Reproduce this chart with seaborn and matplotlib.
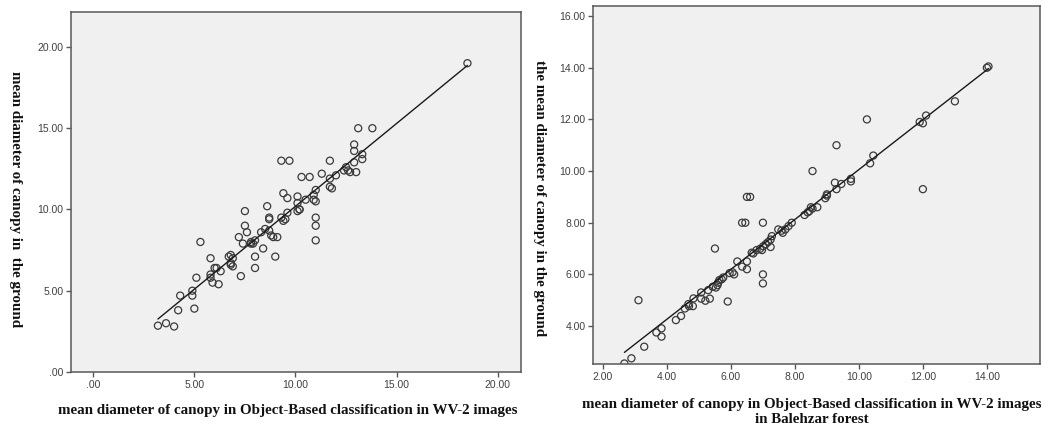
import numpy as np
import pandas as pd
import matplotlib
matplotlib.use("Agg")
import matplotlib.pyplot as plt
from matplotlib.ticker import FuncFormatter, MultipleLocator
import seaborn as sns

# ============================
# Data
# ============================
left_x = [18.5, 13.1, 13.8, 12.9, 12.9, 13.3, 13.3, 12.9, 13.0, 12.5,
          12.4, 12.6, 12.7, 11.7, 11.3, 11.7, 12.0, 11.7, 11.8, 10.3,
          10.7, 9.3, 9.7, 11.0, 10.9, 10.9, 11.0, 11.0, 11.0, 11.0,
          10.5, 10.1, 10.1, 10.2, 10.1, 10.2, 9.4, 9.6, 9.6, 9.3,
          9.5, 9.4, 8.6, 8.7, 8.7, 8.5, 8.7, 8.3, 8.8, 8.9,
          9.1, 9.0, 8.4, 8.0, 8.0, 7.5, 7.5, 7.6, 7.2, 7.4,
          7.8, 7.9, 8.0, 7.8, 7.3, 5.3, 5.8, 6.7, 6.8, 6.9,
          6.8, 6.9, 6.8, 6.0, 6.1, 6.3, 5.8, 5.8, 5.9, 6.2,
          5.1, 4.9, 4.9, 4.3, 4.2, 5.0, 3.2, 3.6, 4.0]
left_y = [19.0, 15.0, 15.0, 14.0, 13.6, 13.4, 13.1, 12.9, 12.3, 12.6,
          12.4, 12.4, 12.3, 13.0, 12.2, 11.9, 12.1, 11.4, 11.3, 12.0,
          12.0, 13.0, 13.0, 11.2, 10.9, 10.6, 10.5, 9.5, 9.0, 8.1,
          10.6, 10.8, 10.4, 10.0, 9.9, 10.0, 11.0, 10.7, 9.8, 9.5,
          9.4, 9.3, 10.2, 9.5, 9.4, 8.8, 8.7, 8.6, 8.4, 8.3,
          8.3, 7.1, 7.6, 7.1, 6.4, 9.9, 9.0, 8.6, 8.3, 7.9,
          8.0, 7.9, 8.1, 7.9, 5.9, 8.0, 7.0, 7.1, 7.2, 7.0,
          6.7, 6.5, 6.6, 6.4, 6.4, 6.2, 6.0, 5.8, 5.5, 5.4,
          5.8, 5.0, 4.7, 4.7, 3.8, 3.9, 2.85, 3.0, 2.8]

right_x = [14.0, 14.05, 13.0, 12.1, 11.9, 12.0, 12.0, 10.25, 9.3, 10.45,
           10.35, 9.75, 9.75, 9.25, 9.45, 9.3, 8.55, 9.0, 9.0, 8.95,
           8.7, 8.55, 8.45, 8.4, 8.3, 8.5, 6.5, 6.6, 6.35, 6.45,
           7.0, 7.9, 7.8, 7.7, 7.58, 7.48, 7.62, 7.28, 7.24, 7.16,
           7.09, 7.01, 6.91, 6.8, 6.7, 6.65, 6.97, 7.24, 7.0, 7.0,
           5.5, 6.5, 6.5, 6.2, 6.35, 6.1, 6.05, 5.96, 5.9, 5.76,
           5.71, 5.64, 5.6, 5.58, 5.53, 5.29, 5.43, 5.34, 5.2, 5.07,
           5.07, 4.83, 4.81, 4.69, 4.67, 4.56, 4.44, 4.28, 3.83, 3.83,
           3.67, 3.29, 3.11, 2.89, 2.67]
right_y = [14.0, 14.05, 12.7, 12.15, 11.9, 11.85, 9.3, 12.0, 11.0, 10.6,
           10.3, 9.7, 9.6, 9.55, 9.5, 9.3, 10.0, 9.1, 9.05, 8.95,
           8.6, 8.55, 8.45, 8.4, 8.3, 8.6, 9.0, 9.0, 8.0, 8.0,
           8.0, 8.0, 7.87, 7.74, 7.69, 7.74, 7.61, 7.48, 7.35, 7.25,
           7.17, 7.09, 6.99, 6.94, 6.81, 6.84, 6.94, 7.06, 6.0, 5.65,
           7.0, 6.5, 6.2, 6.5, 6.3, 6.0, 6.08, 6.05, 4.95, 5.88,
           5.81, 5.78, 5.68, 5.58, 5.49, 5.39, 5.52, 5.06, 4.98, 5.06,
           5.3, 5.07, 4.77, 4.77, 4.85, 4.68, 4.39, 4.23, 3.91, 3.59,
           3.75, 3.2, 5.0, 2.75, 2.55]

left_xlabel = "mean diameter of canopy in Object-Based classification in WV-2 images"
left_ylabel = "mean diameter of canopy in  the ground"
right_xlabel = "mean diameter of canopy in Object-Based classification in WV-2 images\nin Balehzar forest"
right_ylabel = "the mean diameter of canopy in the ground"

df_left = pd.DataFrame({"x": left_x, "y": left_y})
df_right = pd.DataFrame({"x": right_x, "y": right_y})

# ============================
# Style
# ============================
sns.set_style("ticks", {
    "axes.facecolor": "#f0f0f0",
    "axes.edgecolor": "#585858",
    "xtick.color": "#585858",
    "ytick.color": "#585858",
})
plt.rcParams["font.family"] = ["Liberation Sans", "DejaVu Sans"]
plt.rcParams["axes.linewidth"] = 1.1

def spss_fmt(v, pos):
    s = f"{v:.2f}"
    return s[1:] if s.startswith("0.") else s

scatter_kws = {"color": "#3a3a3a", "facecolors": "none", "s": 26,
               "linewidths": 0.9, "alpha": 1}
line_kws = {"color": "#1a1a1a", "lw": 1.0}
label_font = dict(family=["Liberation Serif", "DejaVu Serif"], weight="bold",
                  size=10.8, color="#111111")

fig = plt.figure(figsize=(10.45, 4.29), dpi=100)
ax1 = fig.add_axes([0.0679, 0.1329, 0.4307, 0.8391])
ax2 = fig.add_axes([0.5675, 0.1515, 0.4277, 0.8345])

sns.regplot(data=df_left, x="x", y="y", ax=ax1, ci=None,
            scatter_kws=scatter_kws, line_kws=line_kws)
sns.regplot(data=df_right, x="x", y="y", ax=ax2, ci=None,
            scatter_kws=scatter_kws, line_kws=line_kws)

ax1.set_xlim(-1.1, 21.15)
ax1.set_ylim(0, 22.15)
ax1.xaxis.set_major_locator(MultipleLocator(5))
ax1.yaxis.set_major_locator(MultipleLocator(5))

ax2.set_xlim(1.69, 15.66)
ax2.set_ylim(2.53, 16.39)
ax2.xaxis.set_major_locator(MultipleLocator(2))
ax2.yaxis.set_major_locator(MultipleLocator(2))

for ax in (ax1, ax2):
    ax.set_xlabel("")
    ax.set_ylabel("")
    for sp in ax.spines.values():
        sp.set_visible(True)
    ax.xaxis.set_major_formatter(FuncFormatter(spss_fmt))
    ax.yaxis.set_major_formatter(FuncFormatter(spss_fmt))
    ax.tick_params(length=3.5, width=1.0, labelsize=7.5, labelcolor="#404040", pad=2)

fig.text(0.0144, 0.536, left_ylabel, rotation=-90, ha="center", va="center", **label_font)
fig.text(0.5167, 0.538, right_ylabel, rotation=-90, ha="center", va="center", **label_font)
fig.text(0.275, 0.042, left_xlabel, ha="center", va="center", **label_font)
fig.text(0.777, 0.040, right_xlabel, ha="center", va="center", linespacing=1.2, **label_font)

fig.savefig("out.png", dpi=100)
